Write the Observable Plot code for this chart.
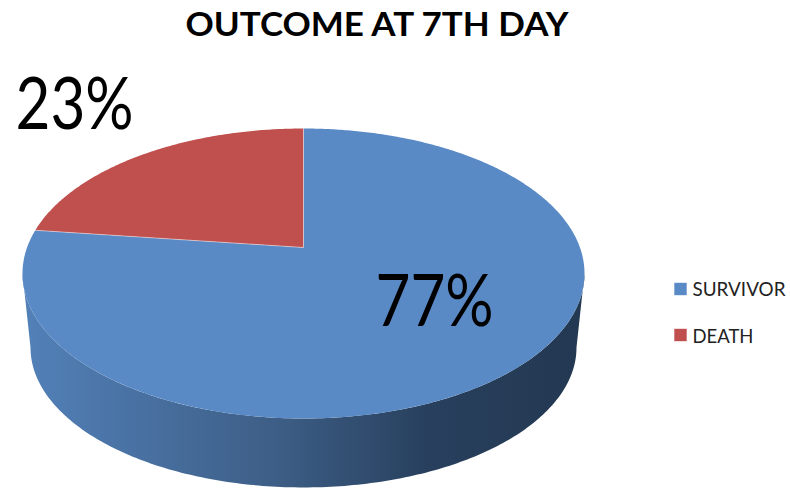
<!DOCTYPE html>
<html>
<head>
<meta charset="utf-8">
<script src="https://cdn.jsdelivr.net/npm/d3@7"></script>
<script src="https://cdn.jsdelivr.net/npm/@observablehq/plot@0.6"></script>
<style>
  html, body { margin: 0; padding: 0; background: #ffffff; }
  #chart svg { display: block; }
</style>
</head>
<body>
<div id="chart"></div>
<script>
// ---- data ----
const title = "OUTCOME AT 7TH DAY";
const categories = ["SURVIVOR", "DEATH"];
const values = [77, 23];
const labels = ["77%", "23%"];

// ---- style ----
const colors = ["#5a8ac6", "#c0504d"];
const sideStops = [
  [0, "#5281b8"], [0.18, "#4a73a5"], [0.45, "#3d5e86"],
  [0.72, "#28405e"], [1, "#233851"]
];
const K = 0.1793;                 // perspective tilt of the pie's top face
const S = Math.sqrt(1 - K * K);
const bottomScaleX = 0.9715, bottomScaleY = 0.9655, depth = 0.51;
const textWidths = {
  "OUTCOME AT 7TH DAY": 383, "23%": 118, "77%": 118, "SURVIVOR": 93, "DEATH": 61
};

// perspective projection of a unit-circle angle (0 = back/top, clockwise)
function proj(phi) {
  const u = Math.sin(phi), v = Math.cos(phi);
  return [u * S / (1 + K * v), (K + v) / (1 + K * v)];
}
const center = [0, K];

const arcs = d3.pie().sort(null).startAngle(0).endAngle(2 * Math.PI)(values);

// top face slices
const topRows = [];
arcs.forEach((a, i) => {
  const cat = categories[i];
  topRows.push({cat, X: center[0], Y: center[1]});
  const n = Math.max(4, Math.ceil((a.endAngle - a.startAngle) / 0.01));
  for (let j = 0; j <= n; j++) {
    const [X, Y] = proj(a.startAngle + (a.endAngle - a.startAngle) * j / n);
    topRows.push({cat, X, Y});
  }
});

// radial seams between slices
const seams = arcs.map((a) => {
  const [X, Y] = proj(a.startAngle);
  return {x1: center[0], y1: center[1], x2: X, y2: Y};
});

// visible side (front half between the silhouette points)
const phiA = Math.acos(-K), phiB = 2 * Math.PI - phiA;
const sideRows = [];
const ns = 200;
for (let j = 0; j <= ns; j++) {
  const [X, Y] = proj(phiA + (phiB - phiA) * j / ns);
  sideRows.push({X, Y});
}
for (let j = ns; j >= 0; j--) {
  const [X, Y] = proj(phiA + (phiB - phiA) * j / ns);
  sideRows.push({X: X * bottomScaleX, Y: Y * bottomScaleY - depth});
}

function gradientDefs() {
  const NS = "http://www.w3.org/2000/svg";
  const defs = document.createElementNS(NS, "defs");
  const g = document.createElementNS(NS, "linearGradient");
  g.setAttribute("id", "sideGrad");
  g.setAttribute("x1", "0"); g.setAttribute("y1", "0");
  g.setAttribute("x2", "1"); g.setAttribute("y2", "0");
  for (const [o, c] of sideStops) {
    const s = document.createElementNS(NS, "stop");
    s.setAttribute("offset", o);
    s.setAttribute("stop-color", c);
    g.appendChild(s);
  }
  defs.appendChild(g);
  return defs;
}

const font = "Lato, 'Open Sans', sans-serif";

const chart = Plot.plot({
  width: 790,
  height: 488,
  margin: 0,
  x: {domain: [-1, 1], range: [22, 584], axis: null},
  y: {domain: [-1, 1], range: [418, 128], axis: null},
  color: {domain: categories, range: colors},
  marks: [
    gradientDefs,
    Plot.line(sideRows, {x: "X", y: "Y", fill: "url(#sideGrad)", stroke: "none", curve: "linear"}),
    Plot.line(topRows, {x: "X", y: "Y", z: "cat", fill: "cat", stroke: "none", curve: "linear"}),
    Plot.link(seams, {x1: "x1", y1: "y1", x2: "x2", y2: "y2", stroke: "#ffffff", strokeOpacity: 0.45, strokeWidth: 1}),
    // title
    Plot.text([title], {text: d => d, frameAnchor: "top-left", dx: 185, dy: 35,
      textAnchor: "start", lineAnchor: "bottom", fontSize: 32, fontWeight: "bold",
      fontFamily: font, fill: "#000"}),
    // slice labels
    Plot.text([labels[0]], {text: d => d, frameAnchor: "top-left", dx: 375, dy: 325,
      textAnchor: "start", lineAnchor: "bottom", fontSize: 71, fontFamily: font, fill: "#000"}),
    Plot.text([labels[1]], {text: d => d, frameAnchor: "top-left", dx: 15, dy: 128,
      textAnchor: "start", lineAnchor: "bottom", fontSize: 71, fontFamily: font, fill: "#000"}),
    // legend
    ...categories.map((c, i) => Plot.dot([c], {frameAnchor: "top-left", dx: 680, dy: 288.5 + i * 46,
      fill: d => d, symbol: "square", r: 7, stroke: "none"})),
    ...categories.map((c, i) => Plot.text([c], {text: d => d, frameAnchor: "top-left", dx: 692, dy: 295 + i * 47,
      textAnchor: "start", lineAnchor: "bottom", fontSize: 20, fontFamily: font, fill: "#222"}))
  ]
});

chart.querySelectorAll("text").forEach((t) => {
  const w = textWidths[t.textContent];
  if (w) {
    t.setAttribute("textLength", w);
    t.setAttribute("lengthAdjust", "spacingAndGlyphs");
  }
});

document.getElementById("chart").appendChild(chart);
</script>
</body>
</html>
